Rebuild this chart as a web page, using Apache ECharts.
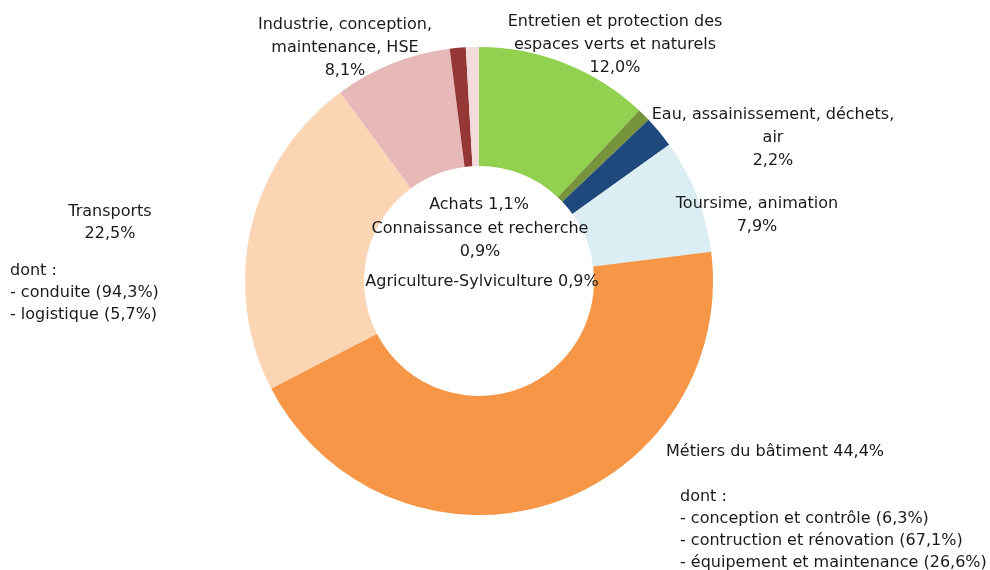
<!DOCTYPE html>
<html>
<head>
<meta charset="utf-8">
<script src="https://cdn.jsdelivr.net/npm/echarts@6/dist/echarts.min.js"></script>
<style>
  html, body { margin: 0; padding: 0; background: #fff; }
  #chart { width: 990px; height: 570px; }
</style>
</head>
<body>
<div id="chart"></div>
<script>
// secteurs, dans l'ordre horaire depuis midi
const categories = [
  'Entretien et protection des\nespaces verts et naturels',
  'Agriculture-Sylviculture',
  'Eau, assainissement, déchets,\nair',
  'Toursime, animation',
  'Métiers du bâtiment',
  'Transports',
  'Industrie, conception,\nmaintenance, HSE',
  'Achats',
  'Connaissance et recherche'
];
const values = [12.0, 0.9, 2.2, 7.9, 44.4, 22.5, 8.1, 1.1, 0.9];
const colors = ['#92D050', '#77933C', '#1F497D', '#DAEEF3', '#F79646', '#FCD5B5', '#E6B9B8', '#953735', '#F2DCDB'];

// détails "dont :"
const transportsDetail = [['conduite', 94.3], ['logistique', 5.7]];
const batimentDetail = [
  ['conception et contrôle', 6.3],
  ['contruction et rénovation', 67.1],
  ['équipement et maintenance', 26.6]
];

// position des étiquettes [x, y(haut), align]
const labelPos = [
  [615, 10, 'center'],
  [482, 270, 'center'],
  [773, 103, 'center'],
  [757, 192, 'center'],
  [666, 441, 'left'],
  [10, 201, 'left'],
  [345, 13, 'center'],
  [479, 193, 'center'],
  [480, 217, 'center']
];
// étiquettes sur une seule ligne avec le pourcentage
const inlinePct = [false, true, false, false, true, false, false, true, false];

const fmt = v => v.toFixed(1).replace('.', ',') + '%';

function labelText(p) {
  const i = p.dataIndex;
  if (categories[i] === 'Transports') {
    let s = '{c|' + categories[i] + '}\n{c|' + fmt(values[i]) + '}\n{g| }\n{l|dont :}';
    transportsDetail.forEach(d => { s += '\n{l|- ' + d[0] + ' (' + fmt(d[1]) + ')}'; });
    return s;
  }
  if (categories[i] === 'Métiers du bâtiment') {
    let s = '{a|' + categories[i] + ' ' + fmt(values[i]) + '}\n{b| }\n{i|dont :}';
    batimentDetail.forEach(d => { s += '\n{i|- ' + d[0] + ' (' + fmt(d[1]) + ')}'; });
    return s;
  }
  return categories[i] + (inlinePct[i] ? ' ' : '\n') + fmt(values[i]);
}

const chart = echarts.init(document.getElementById('chart'));
chart.setOption({
  backgroundColor: '#fff',
  animation: false,
  series: [{
    type: 'pie',
    center: [479, 281],
    radius: [115, 234],
    startAngle: 90,
    clockwise: true,
    avoidLabelOverlap: false,
    emphasis: { disabled: true },
    itemStyle: { borderWidth: 0 },
    data: values.map((v, i) => ({ name: categories[i], value: v, itemStyle: { color: colors[i] } })),
    label: {
      show: true,
      position: 'outside',
      formatter: labelText,
      fontFamily: 'DejaVu Sans',
      fontSize: 16,
      lineHeight: 23,
      color: '#1a1a1a',
      rich: {
        c: { width: 200, align: 'center', fontFamily: 'DejaVu Sans', fontSize: 16, lineHeight: 22, color: '#1a1a1a' },
        l: { width: 200, align: 'left', fontFamily: 'DejaVu Sans', fontSize: 16, lineHeight: 22, color: '#1a1a1a' },
        g: { lineHeight: 15, fontSize: 16 },
        a: { fontFamily: 'DejaVu Sans', fontSize: 16, lineHeight: 22, color: '#1a1a1a' },
        b: { lineHeight: 23, fontSize: 16 },
        i: { fontFamily: 'DejaVu Sans', fontSize: 16, lineHeight: 22, color: '#1a1a1a', padding: [0, 0, 0, 14] }
      }
    },
    labelLine: { show: false },
    labelLayout: function (params) {
      const p = labelPos[params.dataIndex];
      return { x: p[0], y: p[1], align: p[2], verticalAlign: 'top' };
    }
  }]
});
</script>
</body>
</html>
